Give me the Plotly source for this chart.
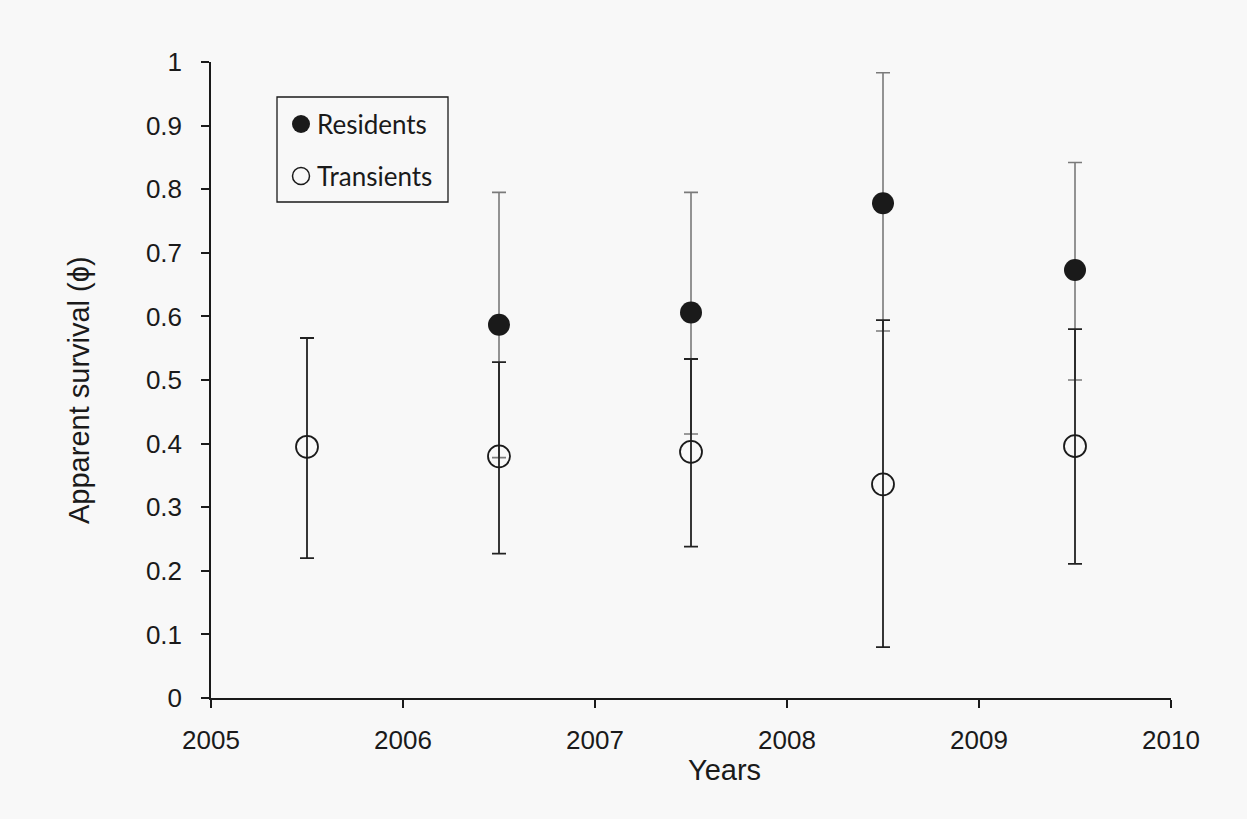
import plotly.graph_objects as go

# Mid-year positions of each survival interval
years_res = [2006.5, 2007.5, 2008.5, 2009.5]
phi_res = [0.587, 0.606, 0.778, 0.673]
res_upper = [0.795, 0.795, 0.983, 0.842]
res_lower = [0.378, 0.415, 0.577, 0.500]

years_tr = [2005.5, 2006.5, 2007.5, 2008.5, 2009.5]
phi_tr = [0.395, 0.380, 0.387, 0.336, 0.396]
tr_upper = [0.566, 0.528, 0.533, 0.594, 0.580]
tr_lower = [0.220, 0.227, 0.238, 0.080, 0.211]

x_ticks = [2005, 2006, 2007, 2008, 2009, 2010]
y_ticks = [0, 0.1, 0.2, 0.3, 0.4, 0.5, 0.6, 0.7, 0.8, 0.9, 1]
legend_labels = ["Residents", "Transients"]
x_title = "Years"
y_title = "Apparent survival (ϕ)"

BG = "#f8f8f8"
INK = "#1a1a1a"
SANS = "Liberation Sans, Arial, sans-serif"

fig = go.Figure()

fig.add_trace(go.Scatter(
    x=years_res, y=phi_res, mode="markers", name=legend_labels[0],
    marker=dict(symbol="circle", size=22, color=INK, line=dict(width=0)),
    error_y=dict(
        type="data", symmetric=False,
        array=[u - p for u, p in zip(res_upper, phi_res)],
        arrayminus=[p - l for p, l in zip(phi_res, res_lower)],
        color="#7a7a7a", thickness=1.6, width=7,
    ),
))

fig.add_trace(go.Scatter(
    x=years_tr, y=phi_tr, mode="markers", name=legend_labels[1],
    marker=dict(symbol="circle-open", size=22, color=INK, line=dict(width=1.8, color=INK)),
    error_y=dict(
        type="data", symmetric=False,
        array=[u - p for u, p in zip(tr_upper, phi_tr)],
        arrayminus=[p - l for p, l in zip(phi_tr, tr_lower)],
        color="#222222", thickness=1.8, width=7,
    ),
))

# Helpers converting page pixels to paper fractions of the 960x636 plot area
def px_x(p):
    return (p - 211) / 960


def px_y(p):
    return (698 - p) / 636


shapes = [
    dict(type="rect", xref="paper", yref="paper",
         x0=px_x(277), x1=px_x(448), y0=px_y(202), y1=px_y(97),
         line=dict(color=INK, width=1.3), fillcolor=BG, layer="above"),
    dict(type="circle", xref="paper", yref="paper",
         x0=px_x(292), x1=px_x(310), y0=px_y(133), y1=px_y(115),
         line=dict(color=INK, width=0), fillcolor=INK, layer="above"),
    dict(type="circle", xref="paper", yref="paper",
         x0=px_x(292.5), x1=px_x(309.5), y0=px_y(184.5), y1=px_y(167.5),
         line=dict(color=INK, width=1.5), fillcolor="rgba(0,0,0,0)", layer="above"),
]

key_font = dict(family="Lato, Carlito, sans-serif", size=26, color=INK)
title_font = dict(family=SANS, size=29, color=INK)

annotations = [
    dict(text=legend_labels[0], xref="paper", yref="paper", x=px_x(315), y=px_y(124),
         xanchor="left", yanchor="middle", showarrow=False, font=key_font),
    dict(text=legend_labels[1], xref="paper", yref="paper", x=px_x(315), y=px_y(176),
         xanchor="left", yanchor="middle", showarrow=False, font=key_font),
    # Axis titles
    dict(text=x_title, xref="paper", yref="paper", x=px_x(724), y=px_y(770),
         xanchor="center", yanchor="middle", showarrow=False, font=title_font),
    dict(text=y_title, xref="paper", yref="paper", x=px_x(79), y=px_y(390),
         xanchor="center", yanchor="middle", showarrow=False, textangle=-90,
         font=title_font),
]

axis_font = dict(family=SANS, size=26, color=INK)

fig.update_layout(
    width=1247, height=819,
    paper_bgcolor=BG, plot_bgcolor=BG,
    margin=dict(l=211, r=76, t=62, b=121),
    showlegend=False,
    shapes=shapes,
    annotations=annotations,
    xaxis=dict(
        range=[2005, 2010], tickvals=x_ticks, ticktext=[str(t) for t in x_ticks],
        showgrid=False, zeroline=False, showline=True, linecolor=INK, linewidth=1.5,
        ticks="outside", ticklen=8, tickwidth=1.5, tickcolor=INK,
        tickfont=axis_font, ticklabelstandoff=10,
    ),
    yaxis=dict(
        range=[0, 1], tickvals=y_ticks,
        ticktext=["0" if t == 0 else ("1" if t == 1 else f"{t:.1f}") for t in y_ticks],
        showgrid=False, zeroline=False, showline=True, linecolor=INK, linewidth=1.5,
        ticks="outside", ticklen=8, tickwidth=1.5, tickcolor=INK,
        tickfont=axis_font, ticklabelstandoff=14,
    ),
)

fig.write_html("out.html")
